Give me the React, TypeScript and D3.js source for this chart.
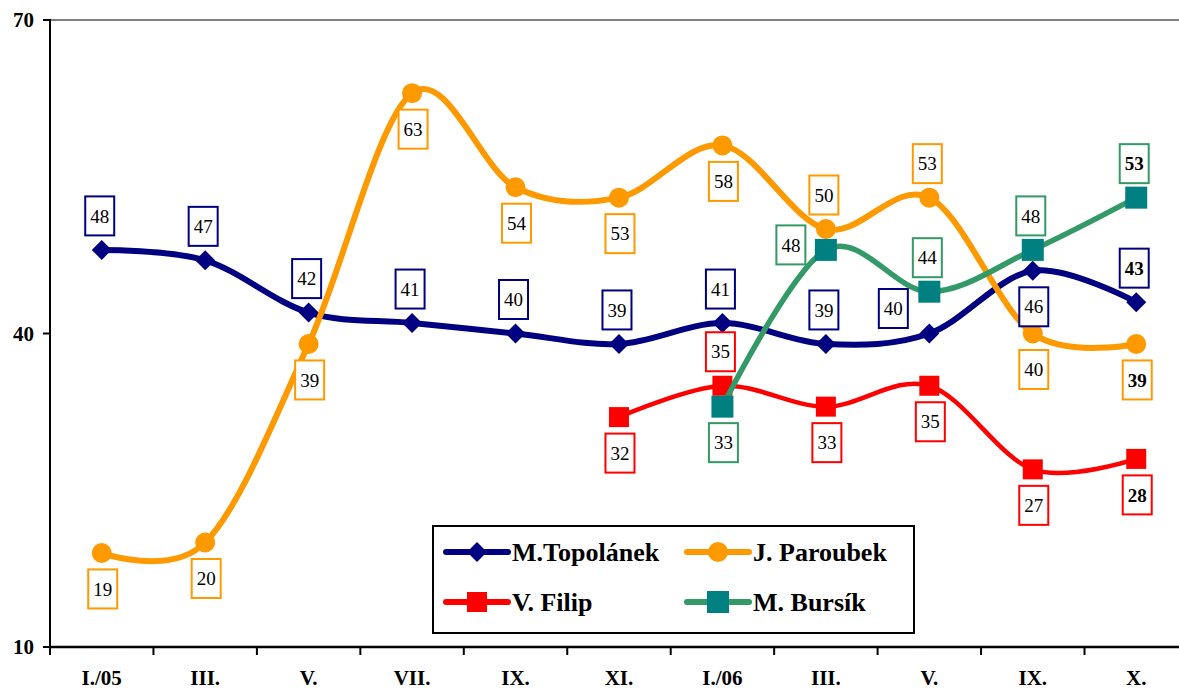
import React from "react";
import * as d3 from "d3";

const categories = ["I./05", "III.", "V.", "VII.", "IX.", "XI.", "I./06", "III.", "V.", "IX.", "X."];
const yTicks = [10, 40, 70];

const topolanek = [48, 47, 42, 41, 40, 39, 41, 39, 40, 46, 43];
const paroubek = [19, 20, 39, 63, 54, 53, 58, 50, 53, 40, 39];
const filip = [null, null, null, null, null, 32, 35, 33, 35, 27, 28];
const bursik = [null, null, null, null, null, null, 33, 48, 44, 48, 53];

// label placement: a = above, b = below, l = left, ul = upper-left
const topolanekPlace = ["a", "a", "a", "a", "a", "a", "a", "a", "ul", "b", "a"];
const paroubekPlace = ["b", "b", "b", "b", "b", "b", "b", "a", "a", "b", "b"];
const filipPlace = ["", "", "", "", "", "b", "a", "b", "b", "b", "b"];
const bursikPlace = ["", "", "", "", "", "", "b", "l", "a", "a", "a"];

type Series = {
  name: string;
  values: (number | null)[];
  place: string[];
  line: string;
  marker: string;
  box: string;
  width: number;
  shape: "diamond" | "circle" | "square" | "bigsquare";
};

const series: Series[] = [
  { name: "M.Topolánek", values: topolanek, place: topolanekPlace, line: "#000080", marker: "#000080", box: "#000080", width: 6, shape: "diamond" },
  { name: "J. Paroubek", values: paroubek, place: paroubekPlace, line: "#FF9900", marker: "#FF9900", box: "#FF9900", width: 6, shape: "circle" },
  { name: "V. Filip", values: filip, place: filipPlace, line: "#FF0000", marker: "#FF0000", box: "#FF0000", width: 4.5, shape: "square" },
  { name: "M. Bursík", values: bursik, place: bursikPlace, line: "#339966", marker: "#008080", box: "#339966", width: 5.5, shape: "bigsquare" },
];

const W = 1179;
const H = 690;
const left = 50;
const step = 103.45;
const top = 20;
const bottom = 647;
const FONT = "Liberation Serif, Times New Roman, serif";

function Marker({ shape, x, y, color }: { shape: string; x: number; y: number; color: string }) {
  if (shape === "diamond") {
    const r = 10;
    return <path d={`M${x},${y - r}L${x + r},${y}L${x},${y + r}L${x - r},${y}Z`} fill={color} />;
  }
  if (shape === "circle") return <circle cx={x} cy={y} r={10} fill={color} />;
  const s = shape === "bigsquare" ? 22 : 20;
  return <rect x={x - s / 2} y={y - s / 2} width={s} height={s} fill={color} />;
}

export default function App() {
  const x = d3
    .scalePoint<number>()
    .domain(categories.map((_, i) => i))
    .range([left, left + step * categories.length])
    .padding(0.5);
  const y = d3.scaleLinear().domain([10, 70]).range([bottom, top]);

  const lineGen = d3
    .line<[number, number]>()
    .x((d) => x(d[0]) as number)
    .y((d) => y(d[1]))
    .curve(d3.curveCardinal.tension(0));

  const boundaries = d3.range(categories.length + 1).map((k) => left + step * k);

  const boxW = 29;
  const boxH = 39;

  const offsets: Record<string, [number, number]> = {
    a: [-2, -34],
    b: [1, 36],
    l: [-35, -5],
    ul: [-36, -25],
  };

  const ts = { fontFamily: FONT };

  return (
    <svg width={W} height={H} style={{ position: "absolute", left: 0, top: 0, background: "#fff" }}>
      {/* top border line */}
      <line x1={left} x2={W} y1={top} y2={top} stroke="#808080" strokeWidth={2} />
      {/* y axis */}
      <line x1={left} x2={left} y1={top - 1} y2={bottom + 1} stroke="#000" strokeWidth={2} />
      {yTicks.map((t) => (
        <g key={t}>
          <line x1={43} x2={left} y1={y(t)} y2={y(t)} stroke="#000" strokeWidth={2} />
          <text x={34} y={y(t)} dy="0.35em" textAnchor="end" fontWeight="bold" fontSize={21} style={ts}>
            {t}
          </text>
        </g>
      ))}
      {/* x axis */}
      <line x1={left} x2={W} y1={bottom} y2={bottom} stroke="#000" strokeWidth={2.5} />
      {boundaries.map((b, i) => (
        <line key={i} x1={b} x2={b} y1={bottom} y2={bottom + 8} stroke="#000" strokeWidth={2} />
      ))}
      {categories.map((c, i) => (
        <text key={i} x={x(i) as number} y={685} textAnchor="middle" fontWeight="bold" fontSize={21} style={ts}>
          {c}
        </text>
      ))}

      {/* lines */}
      {series.map((s) => {
        const pts = s.values
          .map((v, i) => (v == null ? null : ([i, v] as [number, number])))
          .filter((d): d is [number, number] => d !== null);
        return (
          <g key={s.name}>
            <path d={lineGen(pts) || ""} fill="none" stroke={s.line} strokeWidth={s.width} strokeLinecap="round" strokeLinejoin="round" />
            {pts.map((p) => (
              <Marker key={p[0]} shape={s.shape} x={x(p[0]) as number} y={y(p[1])} color={s.marker} />
            ))}
          </g>
        );
      })}

      {/* labels */}
      {series.map((s) => {
        const lastIdx = s.values.length - 1;
        return (
          <g key={s.name + "-lab"}>
            {s.values.map((v, i) => {
              if (v == null) return null;
              const [dx, dy] = offsets[s.place[i]];
              const cx = (x(i) as number) + dx;
              const cy = y(v) + dy;
              return (
                <g key={i}>
                  <rect x={cx - boxW / 2} y={cy - boxH / 2} width={boxW} height={boxH} fill="#fff" stroke={s.box} strokeWidth={2} />
                  <text x={cx} y={cy} dy="0.35em" textAnchor="middle" fontSize={19} fontWeight={i === lastIdx ? "bold" : "normal"} style={ts}>
                    {v}
                  </text>
                </g>
              );
            })}
          </g>
        );
      })}

      {/* legend */}
      <g>
        <rect x={433} y={526} width={481} height={107} fill="#fff" stroke="#000" strokeWidth={2} />
        {series.map((s, i) => {
          const col = i % 2;
          const row = Math.floor(i / 2);
          const lx = col === 0 ? 446 : 687;
          const ly = row === 0 ? 552 : 602;
          return (
            <g key={s.name + "-leg"}>
              <line x1={lx} x2={lx + 62} y1={ly} y2={ly} stroke={s.line} strokeWidth={6} strokeLinecap="round" />
              <Marker shape={s.shape} x={lx + 31} y={ly} color={s.marker} />
              <text x={lx + 66} y={ly} dy="0.35em" fontWeight="bold" fontSize={26} style={ts}>
                {s.name}
              </text>
            </g>
          );
        })}
      </g>
    </svg>
  );
}
